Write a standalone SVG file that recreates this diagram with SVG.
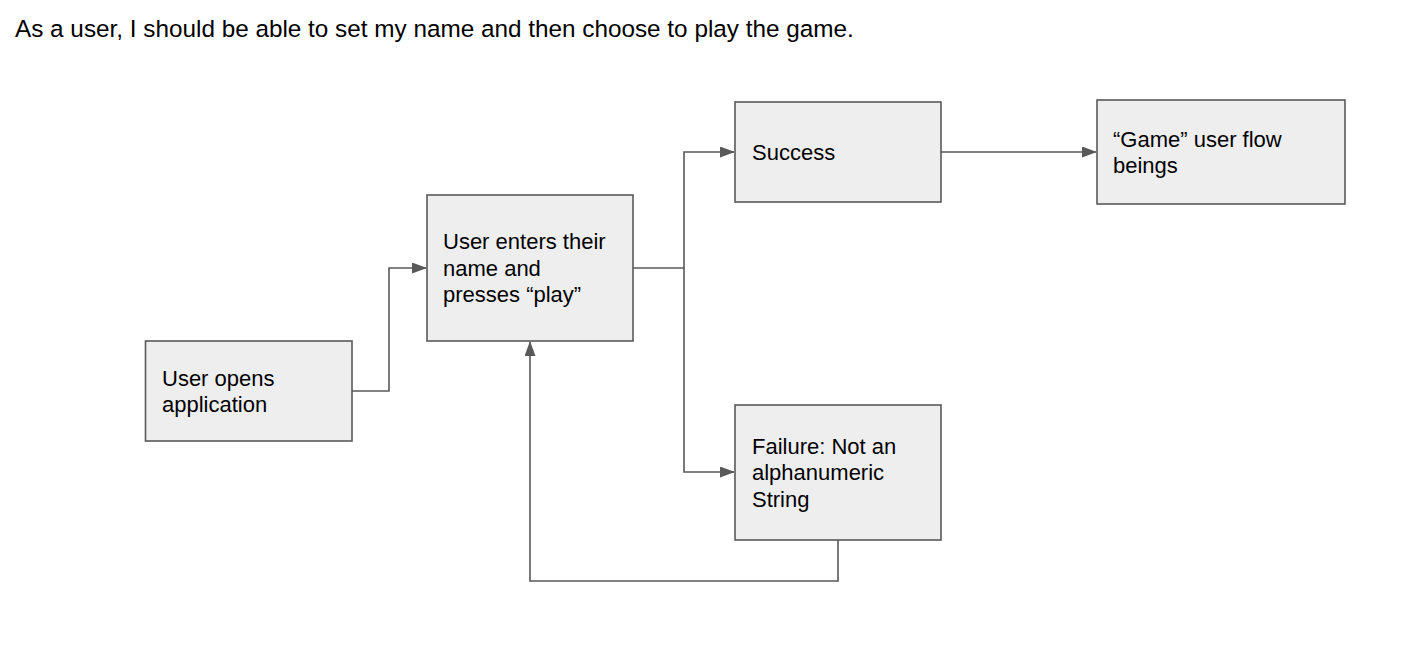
<svg xmlns="http://www.w3.org/2000/svg" width="1420" height="662" viewBox="0 0 1420 662">
<style>
.box{fill:#eeeeee;stroke:#595959;stroke-width:1.6}
.t{font-family:"Liberation Sans",Arial,sans-serif;font-size:22px;fill:#000}
.title{font-family:"Liberation Sans",Arial,sans-serif;font-size:24.3px;fill:#000}
.c{fill:none;stroke:#595959;stroke-width:1.6}
</style>
<defs>
<marker id="ah" viewBox="0 0 15 11" refX="14" refY="5.5" markerWidth="15" markerHeight="11" markerUnits="userSpaceOnUse" orient="auto">
<path d="M0,0 L15,5.5 L0,11 Z" fill="#595959"/>
</marker>
</defs>
<rect width="1420" height="662" fill="#ffffff"/>
<text class="title" x="15" y="37">As a user, I should be able to set my name and then choose to play the game.</text>
<g id="connectors">
<path class="c" d="M352,391 H389 V268 H426" marker-end="url(#ah)"/>
<path class="c" d="M633,268 H684 V152 H734" marker-end="url(#ah)"/>
<path class="c" d="M684,268 V472 H734" marker-end="url(#ah)"/>
<path class="c" d="M941,152 H1096" marker-end="url(#ah)"/>
<path class="c" d="M838,540 V581 H530 V342" marker-end="url(#ah)"/>
</g>
<g id="node-open">
<rect class="box" x="145.5" y="341" width="206.5" height="100"/>
<text class="t" x="162" y="386">User opens</text>
<text class="t" x="162" y="412">application</text>
</g>
<g id="node-enter">
<rect class="box" x="427" y="195" width="206" height="146"/>
<text class="t" x="443" y="249">User enters their</text>
<text class="t" x="443" y="276">name and</text>
<text class="t" x="443" y="302">presses “play”</text>
</g>
<g id="node-success">
<rect class="box" x="735" y="102" width="206" height="100"/>
<text class="t" x="752" y="160">Success</text>
</g>
<g id="node-game">
<rect class="box" x="1097" y="100" width="248" height="104"/>
<text class="t" x="1113" y="147">“Game” user flow</text>
<text class="t" x="1113" y="173">beings</text>
</g>
<g id="node-failure">
<rect class="box" x="735" y="405" width="206" height="135"/>
<text class="t" x="752" y="454">Failure: Not an</text>
<text class="t" x="752" y="480">alphanumeric</text>
<text class="t" x="752" y="507">String</text>
</g>
</svg>
